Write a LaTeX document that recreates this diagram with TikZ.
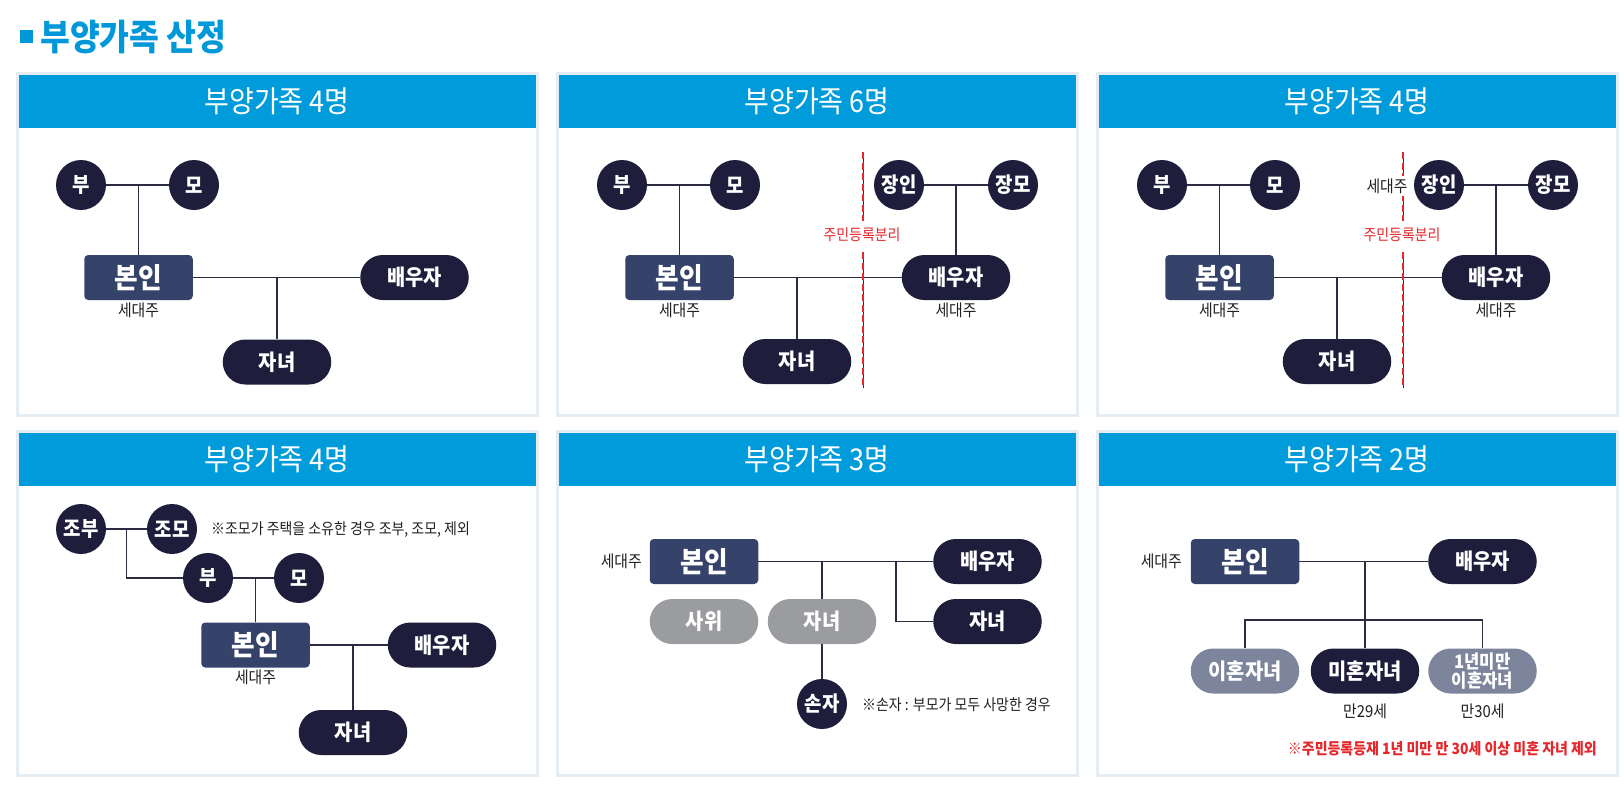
\documentclass[tikz,border=0pt]{standalone}
\usepackage{fontspec}
\setmainfont{Noto Sans CJK KR}[FakeStretch=0.9]
\definecolor{navy}{HTML}{1F1D3C}
\definecolor{selfc}{HTML}{35436A}
\definecolor{hdrc}{HTML}{009BDB}
\definecolor{titlec}{HTML}{0098D8}
\definecolor{bordc}{HTML}{E5ECF4}
\definecolor{linec}{HTML}{2C2B42}
\definecolor{greyc}{HTML}{9B9C9F}
\definecolor{slatec}{HTML}{7C859C}
\definecolor{redc}{HTML}{E6262B}
\definecolor{darkc}{HTML}{231F20}
\newcommand{\fsz}[1]{\fontsize{#1}{#1}\selectfont}
\tikzset{
  panelbox/.style={draw=bordc, line width=3pt, fill=white},
  hdrbar/.style={fill=hdrc, text=white, inner sep=0, minimum width=517pt, minimum height=53.5pt, font=\fsz{30}},
  circ/.style={circle, fill=navy, text=white, minimum size=50pt, inner sep=0, font=\bfseries\fsz{21}},
  pill/.style={rectangle, rounded corners=22.5pt, fill=navy, text=white, minimum width=108.5pt, minimum height=45pt, inner sep=0, font=\bfseries\fsz{22}},
  greypill/.style={pill, fill=greyc},
  slatepill/.style={pill, fill=slatec},
  selfbox/.style={rectangle, rounded corners=4pt, fill=selfc, text=white, minimum width=108.5pt, minimum height=45pt, inner sep=0, font=\bfseries\fsz{28.5}},
  lab/.style={text=darkc, inner sep=0, font=\fsz{16.5}},
  note/.style={text=darkc, inner sep=0, font=\fsz{15.5}},
  rednote/.style={text=redc, inner sep=0, font=\bfseries\fsz{15.5}},
  redlab/.style={text=redc, inner sep=0, font=\fsz{15.5}},
  conn/.style={draw=linec, line width=1.6pt},
  sepline/.style={draw=redc, line width=2.8pt, dash pattern=on 7pt off 3.5pt},
  sepcore/.style={draw=linec, line width=0.8pt},
}
\begin{document}
\begin{tikzpicture}[x=1pt,y=-1pt]
\useasboundingbox (0,0) rectangle (1624,790);
% title
\node[fill=titlec, minimum size=13pt, inner sep=0] (sq) at (26.5,36) {};
\node[anchor=west, text=titlec, inner sep=0, font=\bfseries\fsz{36}] (title) at (40,37) {부양가족 산정};

% panel frames and headers
\draw[panelbox] (17,73) rectangle (537,415);
\draw[panelbox] (557,73) rectangle (1077,415);
\draw[panelbox] (1097,73) rectangle (1617,415);
\draw[panelbox] (17,431) rectangle (537,775);
\draw[panelbox] (557,431) rectangle (1077,775);
\draw[panelbox] (1097,431) rectangle (1617,775);
\node[hdrbar] (h1) at (277,101.3) {부양가족 4명};
\node[hdrbar] (h2) at (817,101.3) {부양가족 6명};
\node[hdrbar] (h3) at (1357,101.3) {부양가족 4명};
\node[hdrbar] (h4) at (277,459.3) {부양가족 4명};
\node[hdrbar] (h5) at (817,459.3) {부양가족 3명};
\node[hdrbar] (h6) at (1357,459.3) {부양가족 2명};

% ---------- panel 1 ----------
\node[circ] (a-bu) at (81,185) {부};
\node[circ] (a-mo) at (194,185) {모};
\node[selfbox] (a-me) at (138.5,277.5) {본인};
\node[lab] (a-sd) at (138.5,310) {세대주};
\node[pill] (a-sp) at (414.5,277.5) {배우자};
\node[pill] (a-ch) at (277,362) {자녀};
\draw[conn] (a-bu.east) -- (a-mo.west);
\draw[conn] (a-me.north) -- (a-me.north |- a-bu);
\draw[conn] (a-me.east) -- (a-sp.west);
\draw[conn] (a-ch.north) -- (a-ch.north |- a-me);

% ---------- panel 2 ----------
\node[circ] (b-bu) at (622,185) {부};
\node[circ] (b-mo) at (735,185) {모};
\node[selfbox] (b-me) at (679.5,277.5) {본인};
\node[lab] (b-sd) at (679.5,310) {세대주};
\node[pill] (b-ch) at (797,361.5) {자녀};
\node[circ] (b-ji) at (899,185) {장인};
\node[circ] (b-jm) at (1013,185) {장모};
\node[pill] (b-sp) at (956,277.5) {배우자};
\node[lab] (b-sd2) at (956,310) {세대주};
\draw[conn] (b-bu.east) -- (b-mo.west);
\draw[conn] (b-me.north) -- (b-me.north |- b-bu);
\draw[conn] (b-me.east) -- (b-sp.west);
\draw[conn] (b-ch.north) -- (b-ch.north |- b-me);
\draw[conn] (b-ji.east) -- (b-jm.west);
\draw[conn] (b-sp.north) -- (b-sp.north |- b-ji);
\coordinate (b-d1) at (863,152);
\coordinate (b-d2) at (863,221);
\coordinate (b-d3) at (863,252);
\coordinate (b-d4) at (863,388);
\draw[sepcore] (b-d1) -- (b-d2);
\draw[sepcore] (b-d3) -- (b-d4);
\draw[sepline] (b-d1) -- (b-d2);
\draw[sepline] (b-d3) -- (b-d4);
\node[redlab] (b-sep) at (862,235) {주민등록분리};

% ---------- panel 3 ----------
\node[circ] (c-bu) at (1162,185) {부};
\node[circ] (c-mo) at (1275,185) {모};
\node[selfbox] (c-me) at (1219.5,277.5) {본인};
\node[lab] (c-sd) at (1219.5,310) {세대주};
\node[pill] (c-ch) at (1337,361.5) {자녀};
\node[circ] (c-ji) at (1439,185) {장인};
\node[circ] (c-jm) at (1553,185) {장모};
\node[pill] (c-sp) at (1496,277.5) {배우자};
\node[lab] (c-sd2) at (1496,310) {세대주};
\draw[conn] (c-bu.east) -- (c-mo.west);
\draw[conn] (c-me.north) -- (c-me.north |- c-bu);
\draw[conn] (c-me.east) -- (c-sp.west);
\draw[conn] (c-ch.north) -- (c-ch.north |- c-me);
\draw[conn] (c-ji.east) -- (c-jm.west);
\draw[conn] (c-sp.north) -- (c-sp.north |- c-ji);
\coordinate (c-d1) at (1403,152);
\coordinate (c-d2) at (1403,221);
\coordinate (c-d3) at (1403,252);
\coordinate (c-d4) at (1403,388);
\draw[sepcore] (c-d1) -- (c-d2);
\draw[sepcore] (c-d3) -- (c-d4);
\draw[sepline] (c-d1) -- (c-d2);
\draw[sepline] (c-d3) -- (c-d4);
\node[redlab] (c-sep) at (1402,235) {주민등록분리};
\node[lab, fill=white, inner ysep=3pt, inner xsep=1pt] (c-sd3) at (1387,186) {세대주};

% ---------- panel 4 ----------
\node[circ] (d-gf) at (81,529) {조부};
\node[circ] (d-gm) at (172,529) {조모};
\node[circ] (d-bu) at (208,578) {부};
\node[circ] (d-mo) at (299,578) {모};
\node[selfbox] (d-me) at (255.5,645) {본인};
\node[lab] (d-sd) at (255.5,677) {세대주};
\node[pill] (d-sp) at (442,645) {배우자};
\node[pill] (d-ch) at (353,732.5) {자녀};
\node[note, anchor=west] (d-note) at (211,530) {※조모가 주택을 소유한 경우 조부, 조모, 제외};
\coordinate (d-gp) at (126.5,529);
\draw[conn] (d-gf.east) -- (d-gm.west);
\draw[conn] (d-gp) |- (d-bu.west);
\draw[conn] (d-bu.east) -- (d-mo.west);
\draw[conn] (d-me.north) -- (d-me.north |- d-bu);
\draw[conn] (d-me.east) -- (d-sp.west);
\draw[conn] (d-ch.north) -- (d-ch.north |- d-me);

% ---------- panel 5 ----------
\node[lab, anchor=east] (e-sd) at (642,561) {세대주};
\node[selfbox] (e-me) at (704,561.5) {본인};
\node[pill] (e-sp) at (987.5,561.5) {배우자};
\node[greypill] (e-sw) at (704,621.5) {사위};
\node[greypill] (e-cg) at (822,621.5) {자녀};
\node[pill] (e-ch) at (987.5,621.5) {자녀};
\node[circ] (e-gc) at (822,704) {손자};
\node[note, anchor=west] (e-note) at (862,705) {※손자 : 부모가 모두 사망한 경우};
\coordinate (e-br) at (896,561.5);
\draw[conn] (e-me.east) -- (e-sp.west);
\draw[conn] (e-cg.north) -- (e-cg.north |- e-me);
\draw[conn] (e-br) |- (e-ch.west);
\draw[conn] (e-cg.south) -- (e-gc.north);

% ---------- panel 6 ----------
\node[lab, anchor=east] (f-sd) at (1182,561) {세대주};
\node[selfbox] (f-me) at (1245,561.5) {본인};
\node[pill] (f-sp) at (1482.5,561.5) {배우자};
\node[slatepill] (f-dv) at (1245,671) {이혼자녀};
\node[pill] (f-um) at (1365,671) {미혼자녀};
\node[slatepill, align=center, font=\bfseries\fontsize{18.5}{18.5}\selectfont] (f-dv1) at (1482.5,671) {1년미만\\이혼자녀};
\node[lab] (f-a29) at (1365,711) {만29세};
\node[lab] (f-a30) at (1482.5,711) {만30세};
\node[rednote, anchor=east] (f-note) at (1597,749) {※주민등록등재 1년 미만 만 30세 이상 미혼 자녀 제외};
\coordinate (f-hub) at (1365,620);
\draw[conn] (f-me.east) -- (f-sp.west);
\draw[conn] (f-um.north) -- (f-um.north |- f-me);
\draw[conn] (f-dv.north) |- (f-hub) -| (f-dv1.north);
\end{tikzpicture}
\end{document}
